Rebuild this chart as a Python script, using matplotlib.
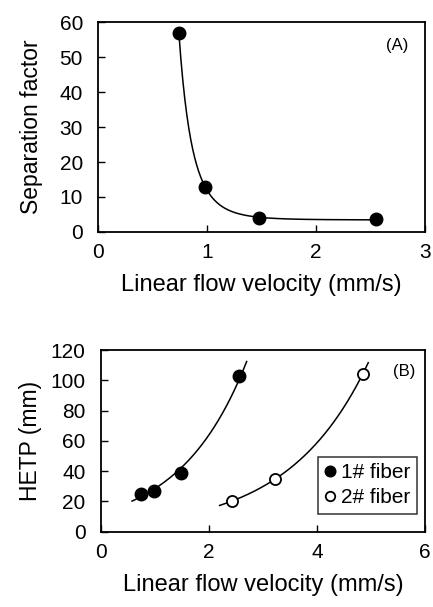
import numpy as np
from matplotlib import pyplot as plt

plt.rcParams['font.family'] = ['Liberation Sans', 'DejaVu Sans']

# (A) separation factor vs. linear flow velocity
vel_a = [0.74, 0.98, 1.48, 2.55]
sep_factor = [57, 13, 4, 3.6]

# (B) HETP for the two fibers
vel_f1 = [0.75, 0.98, 1.48, 2.55]
hetp_f1 = [25, 27, 39, 103]
vel_f2 = [2.42, 3.22, 4.85]
hetp_f2 = [20, 35, 104]


def fit_offset_power(x, y):
    # y = a + b*x^-n, n by grid search, a and b by least squares
    x = np.asarray(x, float)
    y = np.asarray(y, float)
    best = None
    for n in np.linspace(1, 12, 1101):
        A = np.column_stack([np.ones_like(x), x ** -n])
        coef, *_ = np.linalg.lstsq(A, y, rcond=None)
        err = np.sum((A @ coef - y) ** 2)
        if best is None or err < best[0]:
            best = (err, n, coef)
    _, n, (a, b) = best
    return lambda t: a + b * t ** -n


def fit_exp(x, y):
    # excel style exponential trend line
    b, ln_a = np.polyfit(x, np.log(y), 1)
    return lambda t: np.exp(ln_a) * np.exp(b * t)


def style_axes(ax):
    ax.tick_params(direction='in', length=5, width=1, labelsize=15)
    ax.tick_params(axis='x', pad=8)
    ax.tick_params(axis='y', pad=11)
    for s in ax.spines.values():
        s.set_linewidth(1.3)


fig = plt.figure(figsize=(4.33, 6.07), dpi=100)

ax1 = fig.add_axes([0.227, 0.618, 0.7545, 0.345])
f_a = fit_offset_power(vel_a, sep_factor)
t = np.linspace(vel_a[0], vel_a[-1], 300)
ax1.plot(t, f_a(t), color='black', lw=1.1)
ax1.plot(vel_a, sep_factor, 'o', color='black', ms=9)
ax1.set_xlim(0, 3)
ax1.set_ylim(0, 60)
ax1.set_xticks([0, 1, 2, 3])
ax1.set_yticks(range(0, 61, 10))
ax1.set_xlabel('Linear flow velocity (mm/s)', fontsize=17, labelpad=9)
ax1.set_ylabel('Separation factor', fontsize=16.5, labelpad=12)
ax1.text(0.915, 0.89, '(A)', transform=ax1.transAxes, fontsize=12, ha='center', va='center')
style_axes(ax1)

ax2 = fig.add_axes([0.2326, 0.124, 0.749, 0.2993])
f1 = fit_exp(vel_f1, hetp_f1)
f2 = fit_exp(vel_f2, hetp_f2)
t1 = np.linspace(0.58, 2.7, 200)
t2 = np.linspace(2.2, 4.95, 200)
ax2.plot(t1, f1(t1), color='black', lw=1.1)
ax2.plot(t2, f2(t2), color='black', lw=1.1)
ax2.plot(vel_f1, hetp_f1, 'o', color='black', ms=9, label='1# fiber')
ax2.plot(vel_f2, hetp_f2, 'o', mfc='white', mec='black', mew=1.3, ms=8, label='2# fiber')
ax2.set_xlim(0, 6)
ax2.set_ylim(0, 120)
ax2.set_xticks([0, 2, 4, 6])
ax2.set_yticks(range(0, 121, 20))
ax2.set_xlabel('Linear flow velocity (mm/s)', fontsize=17, labelpad=9)
ax2.set_ylabel('HETP (mm)', fontsize=16.5, labelpad=6)
ax2.text(0.935, 0.88, '(B)', transform=ax2.transAxes, fontsize=12, ha='center', va='center')
leg = ax2.legend(loc='lower right', bbox_to_anchor=(0.975, 0.1), fontsize=15,
                 handlelength=0.5, handletextpad=0.3, borderpad=0.3,
                 labelspacing=0.3, borderaxespad=0, fancybox=False,
                 edgecolor='black', markerscale=0.85)
leg.get_frame().set_linewidth(1.1)
style_axes(ax2)

fig.savefig('out.png', dpi=100)
